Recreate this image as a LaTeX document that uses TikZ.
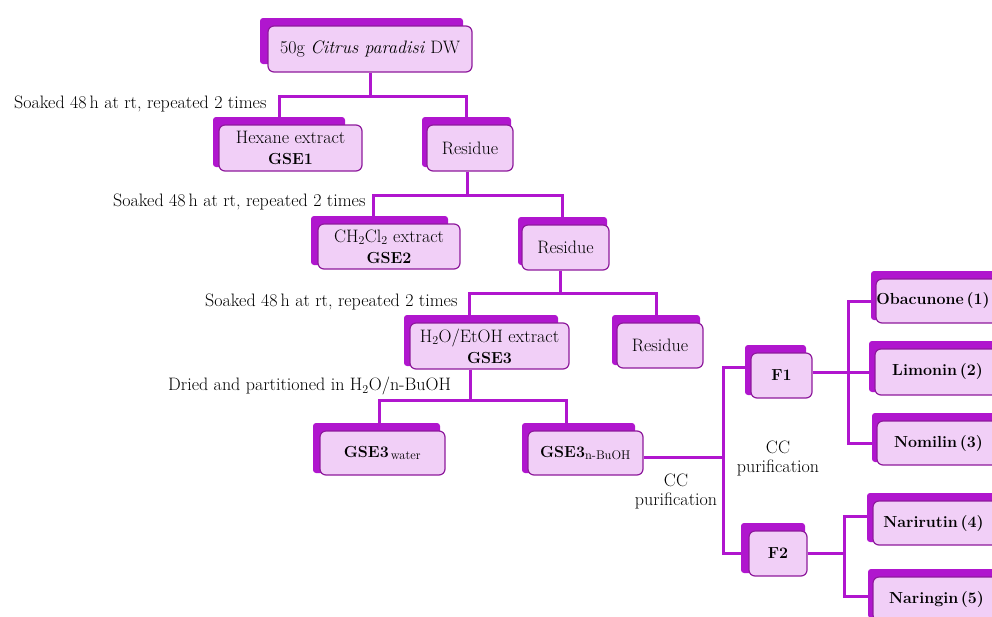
\documentclass[tikz,border=0pt]{standalone}
\usetikzlibrary{calc}
\pgfdeclarelayer{lines}
\pgfdeclarelayer{back}
\pgfsetlayers{lines,back,main}
\definecolor{pur}{HTML}{B016CE}
\definecolor{pinkfill}{HTML}{F1CFF7}
\definecolor{edgecol}{HTML}{8E1A9C}
\newcommand\B[1]{{\fontsize{16}{20}\selectfont\bfseries #1}}
\tikzset{
  frontbox/.style={draw=edgecol, line width=1.2pt, fill=pinkfill, rounded corners=6pt,
    inner sep=0pt, align=center, font=\fontsize{18}{21}\selectfont},
  backbox/.style={fill=pur, rounded corners=3pt, inner sep=0pt, draw=none},
  conn/.style={draw=pur, line width=3pt},
  lab/.style={inner sep=0pt, font=\fontsize{18}{19}\selectfont},
}
\newcommand\bx[9]{%
  \node[frontbox, minimum width={(#4-#2)*1pt}, minimum height={(#5-#3)*1pt}] (#1) at ({(#2+#4)/2},{(#3+#5)/2}) {#9};
  \begin{pgfonlayer}{back}
  \node[backbox, minimum width={(#7-#6)*1pt}, minimum height={(#8-#3+8)*1pt}] (#1b) at ({(#6+#7)/2},{(#3-8+#8)/2}) {};
  \end{pgfonlayer}}
\begin{document}
\begin{tikzpicture}[x=1pt,y=-1pt]
\useasboundingbox (0,0) rectangle (992,616);
\bx{b0}{268}{26}{472}{72}{260}{463}{64}{50g \textit{Citrus paradisi} DW}
\bx{hex}{219}{125}{362}{171}{213}{345}{167}{Hexane extract\\\B{GSE1}}
\bx{res1}{427}{125}{513}{171}{422}{511}{167}{Residue}
\bx{ch}{318}{224}{460}{269}{311}{448}{265}{CH$_2$Cl$_2$ extract\\\B{GSE2}}
\bx{res2}{522}{225}{609}{270}{518}{607}{265}{Residue}
\bx{h2o}{410}{323}{569}{369}{404}{558}{366}{H$_2$O/EtOH extract\\\B{GSE3}}
\bx{res3}{617}{323}{703}{368}{612}{700}{365}{Residue}
\bx{gw}{320}{431}{445}{475}{313}{440}{473}{\B{GSE3}\textsubscript{\,water}}
\bx{gb}{528}{431}{643}{475}{522}{635}{473}{\B{GSE3}\textsubscript{n-BuOH}}
\bx{f1}{751}{353}{812}{398}{745}{806}{395}{\B{F1}}
\bx{f2}{749}{531}{807}{576}{741}{805}{573}{\B{F2}}
\bx{oba}{876}{279}{1000}{323}{871}{1000}{320}{\B{Obacunone\,(1)}\hspace*{10pt}}
\bx{lim}{875}{349}{1000}{395}{869}{1000}{392}{\B{Limonin\,(2)}}
\bx{nom}{877}{421}{1000}{465}{872}{1000}{462}{\B{Nomilin\,(3)}}
\bx{nar}{873}{501}{1000}{545}{867}{1000}{542}{\B{Narirutin\,(4)}\hspace*{6pt}}
\bx{narg}{873}{577}{1000}{621}{868}{1000}{618}{\B{Naringin\,(5)}}

\node[lab, anchor=west] (t1) at (14,104) {Soaked 48\,h at rt, repeated 2 times};
\node[lab, anchor=west] (t2) at (113,202) {Soaked 48\,h at rt, repeated 2 times};
\node[lab, anchor=west] (t3) at (205,302) {Soaked 48\,h at rt, repeated 2 times};
\node[lab, anchor=west] (t4) at (168,386) {Dried and partitioned in H$_2$O/n-BuOH};
\node[lab, align=center] (cc1) at (676,491) {CC\\purification};
\node[lab, align=center] (cc2) at (778,458) {CC\\purification};

\begin{pgfonlayer}{lines}
\draw[conn] (b0.south) -- ++(0,24) coordinate (j1) -| (hexb.north);
\draw[conn] (j1) -| (res1b.north);
\draw[conn] ([xshift=-3pt]res1.south) -- ++(0,24) coordinate (j2) -| ([xshift=-6pt]chb.north);
\draw[conn] (j2) -| (res2b.north);
\draw[conn] ([xshift=-5pt]res2.south) -- ++(0,23) coordinate (j3) -| ([xshift=-12pt]h2ob.north);
\draw[conn] (j3) -| (res3b.north);
\draw[conn] ([xshift=-19pt]h2o.south) -- ++(0,31) coordinate (j4) -| ([xshift=2.5pt]gwb.north);
\draw[conn] (j4) -| ([xshift=-12.5pt]gbb.north);
\draw[conn] ([yshift=-4pt]gb.east) -- ++(80,0) coordinate (j5);
\draw[conn] ([yshift=3pt]f1b.west) -| (j5) |- ([yshift=-5pt]f2b.west);
\draw[conn] ([yshift=3.5pt]f1.east) -- ++(36,0) coordinate (j6) -- (j6 -| lim.west);
\draw[conn] (oba.west) -| (j6) |- (nom.west);
\draw[conn] (f2.east) -- ++(37,0) coordinate (j7);
\draw[conn] ([yshift=7pt]nar.west) -| (j7) |- ([yshift=3pt]narg.west);
\end{pgfonlayer}
\end{tikzpicture}
\end{document}
